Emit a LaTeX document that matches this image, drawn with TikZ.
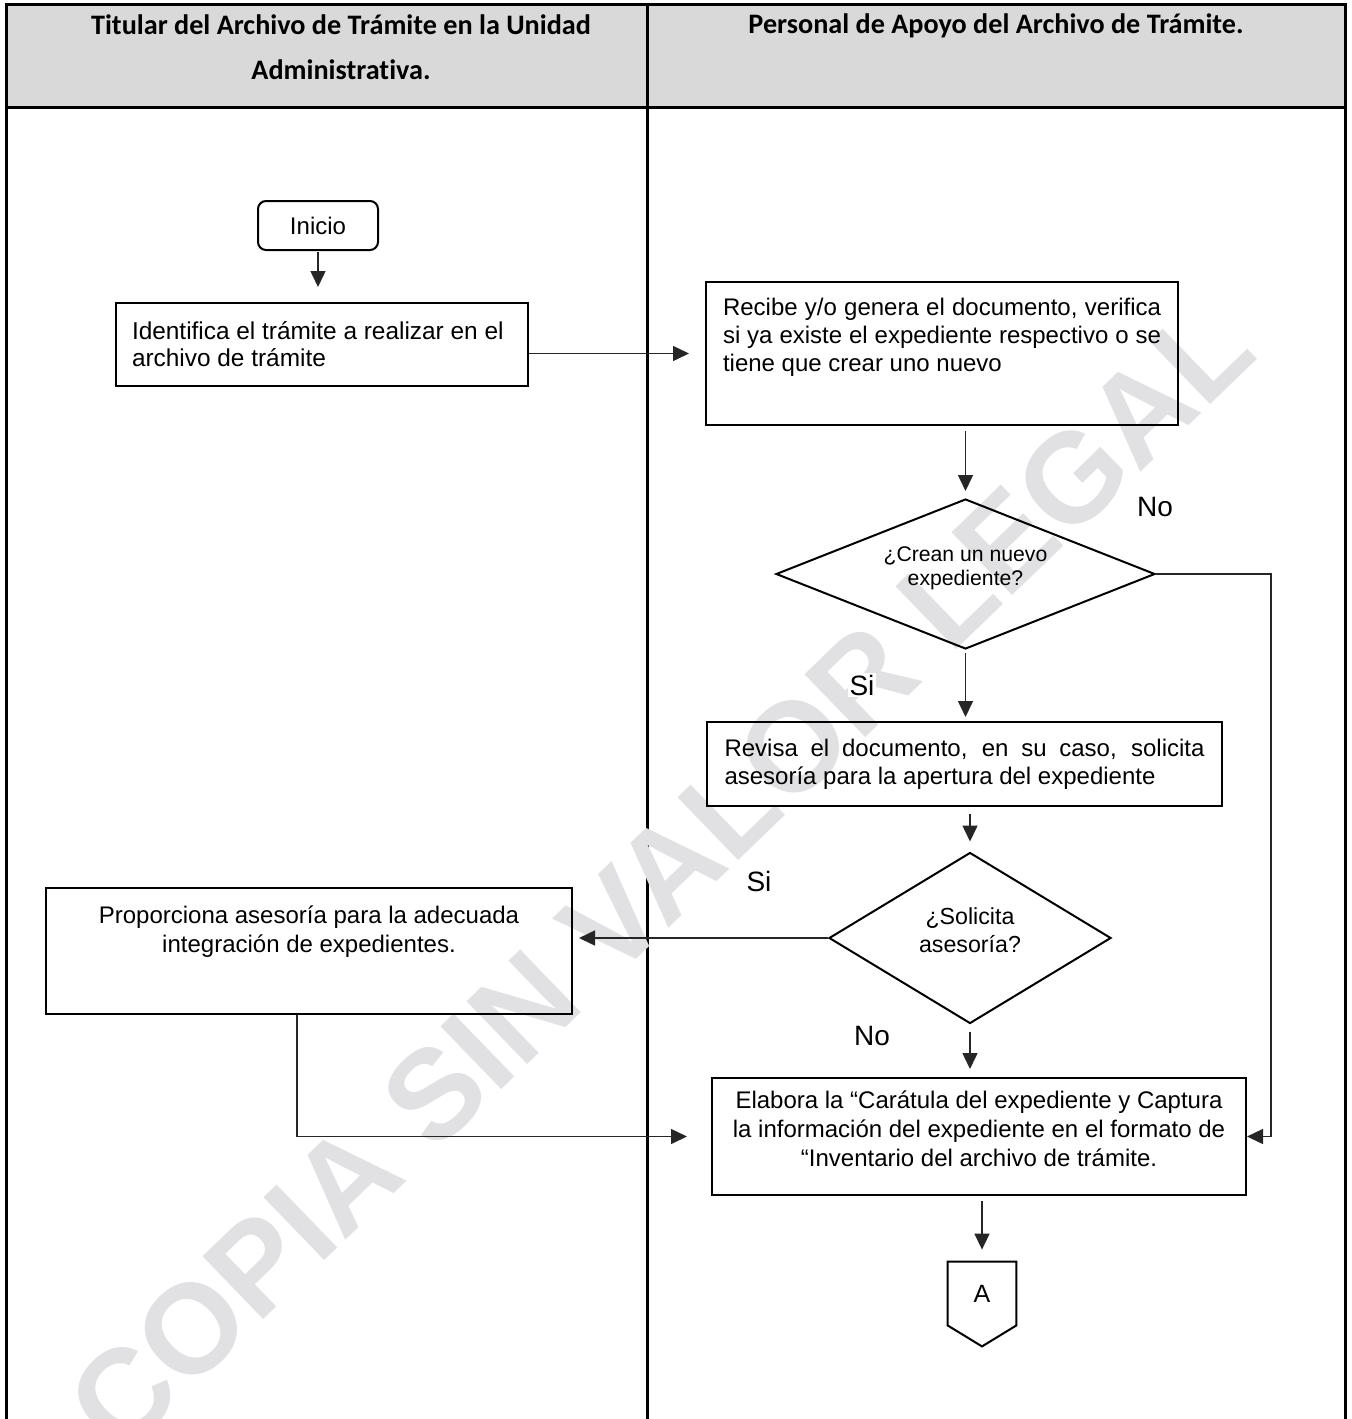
\documentclass[tikz,border=0pt]{standalone}
\usepackage{fontspec}
\setmainfont{Liberation Sans}
\newfontfamily\hdrfont[Ligatures=CommonOff]{Carlito}
\usetikzlibrary{shapes.geometric,arrows.meta,calc}

\definecolor{hdrgray}{RGB}{217,217,217}
\definecolor{wmgray}{RGB}{225,225,228}

% natural interword spacing inside aligned node text
\newcommand{\natsp}{\spaceskip=0pt\xspaceskip=0pt\relax}

\tikzset{
  procbox/.style={draw, line width=1pt, rectangle, inner sep=0pt,
    font=\fontsize{12}{14}\selectfont},
  decision/.style={draw, line width=1pt, diamond, inner sep=0pt, align=center},
  flow/.style={draw=black!85, line width=0.75pt,
    -{Triangle[length=8pt,width=7.5pt]}},
  lbl/.style={fill=white, inner sep=1pt, font=\fontsize{14}{16}\selectfont},
  hdr/.style={align=center, font=\hdrfont\bfseries\fontsize{14.1}{22.5}\selectfont},
  lane/.style={line width=1.5pt}
}

\begin{document}
\begin{tikzpicture}[x=0.5pt,y=-0.5pt]
\useasboundingbox (0,0) rectangle (1351,1419);

% swimlane table
\fill[hdrgray] (6,4) rectangle (1345,107);
\draw[lane] (6,1425) -- (6,4) -- (1345,4) -- (1345,1425);
\draw[lane] (6,107) -- (1345,107);
\draw[lane] (647,4) -- (647,1425);

\node[hdr] (h1) at (341,47) {\natsp Titular del Archivo de Trámite en la Unidad\\Administrativa.};
\node[hdr] (h2) at (996,26) {\natsp Personal de Apoyo del Archivo de Trámite.};

% watermark
\node[rotate=44, text=wmgray, inner sep=0pt,
  font=\fontsize{63.5}{64}\bfseries\selectfont] (wm) at (660,876) {COPIA SIN VALOR LEGAL};

% steps
\node[draw, line width=1pt, rounded corners=4pt, inner sep=0pt,
  minimum width=60pt, minimum height=24.5pt,
  font=\fontsize{12}{14}\selectfont] (inicio) at (318,225.5) {Inicio};

\node[procbox, minimum width=206pt, minimum height=41.5pt] (ident) at (322,344.5)
  {\begin{minipage}{190pt}\raggedright\baselineskip=13.5pt
   \fontsize{12.2}{13.5}\selectfont
   Identifica el trámite a realizar en el\\archivo de trámite
   \end{minipage}};

\node[procbox, minimum width=236pt, minimum height=71.5pt] (recibe) at (942,353.5)
  {\begin{minipage}[c][57.5pt][t]{219pt}
   \strut\makebox[\linewidth][s]{Recibe y/o genera el documento, verifica}\\
   \makebox[\linewidth][s]{si ya existe el expediente respectivo o se}\\
   tiene que crear uno nuevo
   \end{minipage}};

\node[decision, aspect=2.53, minimum width=189.5pt, minimum height=75pt,
  font=\fontsize{10.6}{12}\selectfont] (d1) at (965.5,574)
  {\natsp ¿Crean un nuevo\\expediente?\\[-3.8pt]\mbox{}};

\node[procbox, minimum width=257.5pt, minimum height=42pt] (revisa) at (964.5,764)
  {\begin{minipage}{240pt}
   \makebox[\linewidth][s]{Revisa el documento, en su caso, solicita}\\
   asesoría para la apertura del expediente
   \end{minipage}};

\node[decision, aspect=1.65, minimum width=141pt, minimum height=85.5pt,
  font=\fontsize{11.6}{14}\selectfont] (d2) at (970,938)
  {\natsp ¿Solicita\\asesoría?\\[-6pt]\mbox{}};

\node[procbox, minimum width=263pt, minimum height=63pt] (prop) at (309,951)
  {\begin{minipage}[c][47pt][t]{250pt}\centering\baselineskip=14.5pt
   \strut Proporciona asesoría para la adecuada\\integración de expedientes.
   \end{minipage}};

\node[procbox, minimum width=267pt, minimum height=58.5pt] (elab) at (979,1136.5)
  {\begin{minipage}[c][47.2pt][t]{262pt}\centering\baselineskip=14.5pt
   \strut Elabora la “Carátula del expediente y Captura\\la información del expediente en el formato de\\“Inventario del archivo de trámite.
   \end{minipage}};

% off-page connector
\node[inner sep=0pt, minimum width=34pt, minimum height=31.5pt,
  font=\fontsize{12.5}{14}\selectfont] (conA) at (982,1293.5) {A};
\draw[line width=1pt] (conA.north west) -- (conA.north east) -- (conA.south east)
  -- ($(conA.south)+(0,21)$) -- (conA.south west) -- cycle;

% connectors
\draw[flow, shorten <=0.5pt, shorten >=7.5pt] (inicio.south) -- (inicio.south |- ident.north);
\draw[flow, shorten >=8pt] (ident.east |- recibe.west) -- (recibe.west);
\draw[flow, shorten <=2.5pt, shorten >=3.5pt] (recibe.south -| d1.north) -- (d1.north);
\draw[flow] (d1.east) -- ++(115,0) |- (elab.east);
\draw[flow, shorten <=1.5pt, shorten >=2pt] (d1.south) -- (d1.south |- revisa.north);
\draw[flow, shorten <=3.5pt, shorten >=5pt] (revisa.south -| d2.north) -- (d2.north);
\draw[flow, shorten >=3pt] (d2.west) -- (d2.west -| prop.east);
\draw[flow, shorten <=3.5pt, shorten >=4pt] (d2.south) -- (d2.south |- elab.north);
\draw[flow, shorten >=12pt] ([xshift=-6pt]prop.south) |- (elab.west);
\draw[flow, shorten <=2.5pt, shorten >=6pt] (elab.south -| conA.north) -- (conA.north);

% branch labels
\node[lbl] (lNo1) at (1155,507) {No};
\node[lbl] (lSi1) at (862,685) {Si};
\node[lbl] (lSi2) at (759,881) {Si};
\node[lbl] (lNo2) at (872,1036) {No};
\end{tikzpicture}
\end{document}
